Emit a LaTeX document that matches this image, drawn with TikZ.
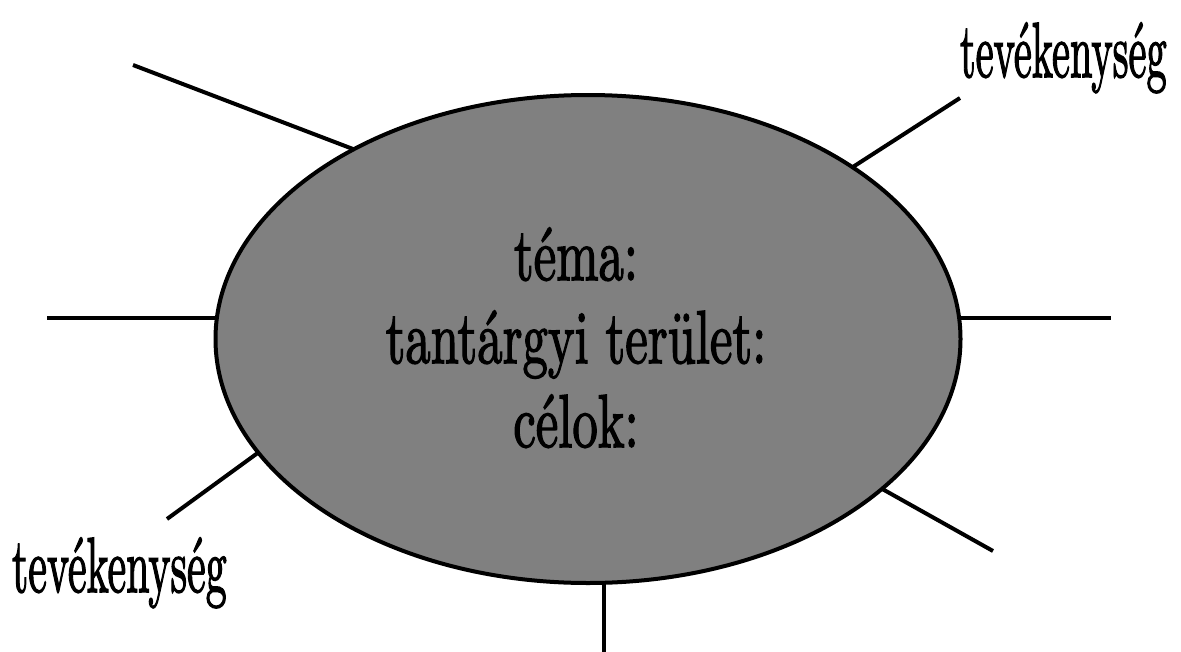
\documentclass[tikz,border=0pt]{standalone}
\usepackage{fontspec}
\newfontfamily\labfont[FakeBold=2.2]{lmroman10-regular.otf}
\usetikzlibrary{shapes.geometric}
\begin{document}
\begin{tikzpicture}[x=1pt,y=-1pt,
  spoke/.style={line width=4pt},
  bubble/.style={ellipse, draw, line width=4pt, fill={rgb,255:red,128;green,128;blue,128},
    minimum width=745pt, minimum height=488pt, inner sep=0pt, outer sep=0pt},
  lbl/.style={inner sep=0pt, outer sep=0pt}]
\useasboundingbox (0,0) rectangle (1181,651);
\node[bubble] (ell) at (588,339) {};
% free ends
\coordinate (ul) at (133,65);
\coordinate (l) at (47,318);
\coordinate (ll) at (167,519);
\coordinate (b) at (604,655);
\coordinate (lr) at (993,551);
\coordinate (r) at (1111,318);
\coordinate (ur) at (960,98);
\draw[spoke] (ell.141.3) -- (ul);
\draw[spoke] (l -| ell.west) -- (l);
\draw[spoke] (ell.199.8) -- (ll);
\draw[spoke] (b |- ell.south) -- (b);
\draw[spoke] (ell.333.1) -- (lr);
\draw[spoke] (r -| ell.east) -- (r);
\draw[spoke] (ell.33.8) -- (ur);
% labels
\node[lbl, anchor=base west] (tur) at (960,77) {\scalebox{0.518}[1]{\labfont\fontsize{78}{90}\selectfont tevékenység}};
\node[lbl, anchor=base west] (tll) at (12,592) {\scalebox{0.538}[1]{\labfont\fontsize{78}{90}\selectfont tevékenység}};
\node[lbl, anchor=base] (t1) at (576,280) {\scalebox{0.676}[1]{\labfont\fontsize{75}{90}\selectfont téma:}};
\node[lbl, anchor=base] (t2) at (576,363) {\scalebox{0.676}[1]{\labfont\fontsize{75}{90}\selectfont tantárgyi terület:}};
\node[lbl, anchor=base] (t3) at (576,447) {\scalebox{0.676}[1]{\labfont\fontsize{75}{90}\selectfont célok:}};
\end{tikzpicture}
\end{document}
